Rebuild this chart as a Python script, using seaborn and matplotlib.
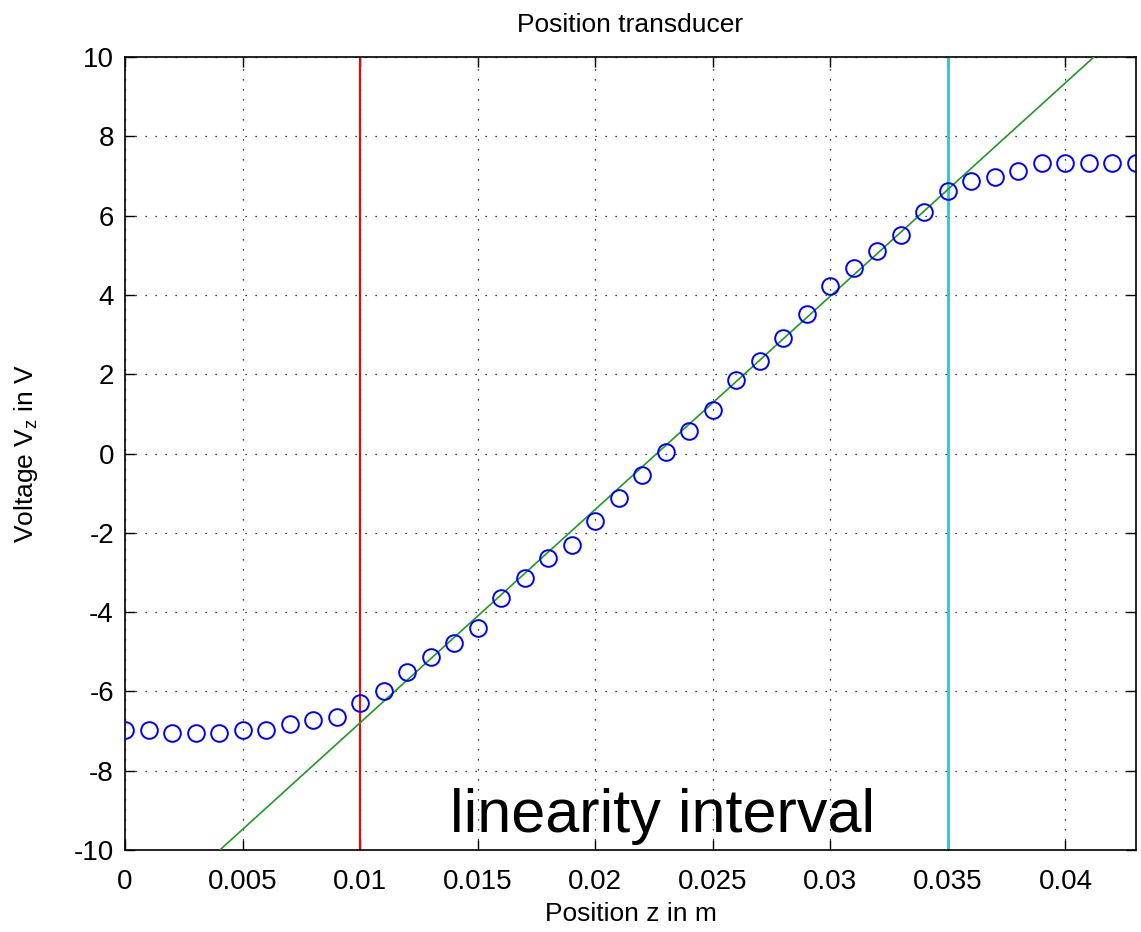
import numpy as np
import pandas as pd
import matplotlib
matplotlib.use("Agg")
import matplotlib.pyplot as plt
import seaborn as sns
from matplotlib.ticker import FuncFormatter

position = np.array([0.000, 0.001, 0.002, 0.003, 0.004, 0.005, 0.006, 0.007, 0.008, 0.009,
                     0.010, 0.011, 0.012, 0.013, 0.014, 0.015, 0.016, 0.017, 0.018, 0.019,
                     0.020, 0.021, 0.022, 0.023, 0.024, 0.025, 0.026, 0.027, 0.028, 0.029,
                     0.030, 0.031, 0.032, 0.033, 0.034, 0.035, 0.036, 0.037, 0.038, 0.039,
                     0.040, 0.041, 0.042, 0.043])
voltage = np.array([-6.98, -6.98, -7.04, -7.04, -7.04, -6.98, -6.98, -6.83, -6.73, -6.64,
                    -6.29, -6.00, -5.52, -5.12, -4.78, -4.39, -3.65, -3.13, -2.63, -2.30,
                    -1.71, -1.13, -0.54, 0.05, 0.58, 1.11, 1.85, 2.34, 2.91, 3.51,
                    4.23, 4.68, 5.10, 5.50, 6.08, 6.63, 6.88, 6.97, 7.13, 7.32,
                    7.32, 7.32, 7.32, 7.32])

# linear fit (slope in V/m, offset in V)
fit_slope = 538.0
fit_offset = -12.17

# linearity interval bounds
lin_start = 0.010
lin_end = 0.035

x_ticks = [0, 0.005, 0.01, 0.015, 0.02, 0.025, 0.03, 0.035, 0.04]
y_ticks = [-10, -8, -6, -4, -2, 0, 2, 4, 6, 8, 10]

df = pd.DataFrame({"z": position, "V": voltage})
df["fit"] = fit_slope * df["z"] + fit_offset

sns.set_style("ticks")
plt.rcParams["font.family"] = ["Liberation Sans", "DejaVu Sans"]
plt.rcParams["axes.unicode_minus"] = False
plt.rcParams["text.color"] = "black"
plt.rcParams["axes.labelcolor"] = "black"
plt.rcParams["xtick.color"] = "black"
plt.rcParams["ytick.color"] = "black"

fig = plt.figure(figsize=(11.41, 9.32), dpi=100)
ax = fig.add_axes([0.1096, 0.088, 0.886, 0.8508])

sns.lineplot(data=df, x="z", y="fit", color="#1f9a1f", linewidth=1.2, ax=ax, zorder=3)
sns.lineplot(data=df, x="z", y="V", marker="o", linestyle="none", markersize=12,
             markerfacecolor="none", markeredgecolor="blue", markeredgewidth=1.4,
             ax=ax, zorder=4)
ax.axvline(lin_start, color="red", linewidth=1.5, zorder=2)
ax.axvline(lin_end, color="#2ec8c8", linewidth=2, zorder=2)

ax.text(0.02287, -9.54, "linearity interval", fontsize=44, ha="center", va="baseline",
        color="black")

ax.set_xlim(0, 0.043)
ax.set_ylim(-10, 10)
ax.set_xticks(x_ticks)
ax.set_yticks(y_ticks)
ax.xaxis.set_major_formatter(FuncFormatter(lambda v, p: "%g" % v))
ax.tick_params(direction="in", length=7, width=1, top=True, right=True,
               labelsize=20, color="black")
ax.tick_params(axis="x", pad=14)
ax.tick_params(axis="y", pad=8)
ax.grid(True, color="black", linestyle=(0, (1, 7)), linewidth=0.9)
for s in ax.spines.values():
    s.set_visible(True)
    s.set_color("black")
    s.set_linewidth(1.2)

ax.set_title("Position transducer", fontsize=19, pad=18)
ax.set_xlabel("Position z in m", fontsize=19, labelpad=5)
ax.set_ylabel(r"Voltage V$_\mathregular{z}$ in V", fontsize=19, labelpad=24)

fig.savefig("out.png", dpi=100)
